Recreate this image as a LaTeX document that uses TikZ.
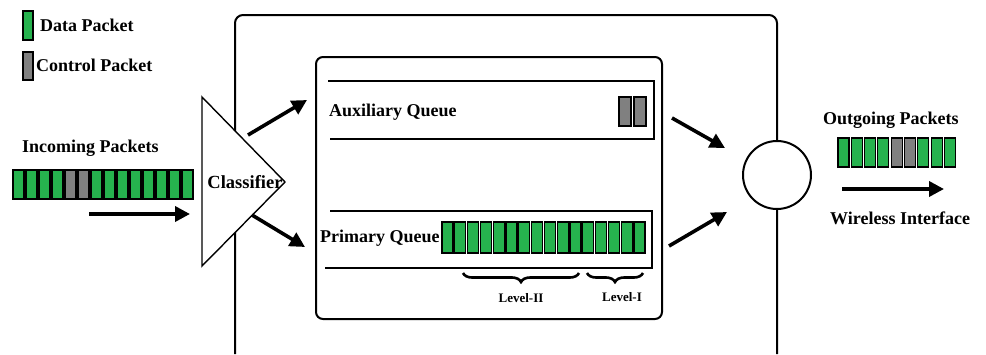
\documentclass[tikz,border=0pt]{standalone}
\usepackage{fontspec}
\setmainfont{Liberation Serif}
\usepackage{tikz}
\usepackage{xcolor}
\usetikzlibrary{positioning,arrows.meta,decorations.pathreplacing}
\definecolor{pktgreen}{RGB}{38,178,78}
\definecolor{pktgray}{RGB}{128,128,128}
\tikzset{
    packet-box/.style = {draw=black, line width=1.1pt, rectangle, inner sep=0pt, minimum width=11pt, minimum height=29pt},
    data-packet/.style = {fill=pktgreen},
    control-packet/.style = {fill=pktgray},
    big-label/.style = {font=\fontsize{18}{20}\selectfont\bfseries, inner sep=0pt},
    small-label/.style = {font=\fontsize{13}{15}\selectfont\bfseries, inner sep=0pt},
    thick-arrow/.style = {line width=3.6pt, -{Triangle[length=15pt,width=15pt]}},
    level-brace/.style = {line width=2.6pt, decorate, decoration={brace, mirror, amplitude=9pt}},
    frame-line/.style = {line width=2pt, rounded corners=8pt},
}

\begin{document}
\begin{tikzpicture}[x=1pt, y=-1pt]
\useasboundingbox (0,0) rectangle (986,354);
% outer router box, open at the bottom
\draw[frame-line] (235,354) -- (235,15) -- (777,15) -- (777,354);
\draw[line width=2pt, rounded corners=7pt] (316,57) rectangle (662,319);
% legend
\node[packet-box, data-packet, minimum width=10pt] (leg-data) at (28,25.5) {};
\node[packet-box, control-packet, minimum width=10pt, minimum height=28pt] (leg-ctrl) at (28,66) {};
\node[big-label, anchor=west] at (40,25) {Data Packet};
\node[big-label, anchor=west] at (36,65) {Control Packet};
% incoming side
\node[big-label, anchor=west] (in-title) at (22,148) {Incoming Packets};
\foreach \c [count=\i] in {data,data,data,data,control,control,data,data,data,data,data,data,data,data}
    \node[packet-box, \c-packet] (in-\i) at (5.5+13*\i,184.5) {};
\coordinate (in-start) at (89,214);
\coordinate (in-end) at (190,214);
\draw[thick-arrow] (in-start) -- (in-end);
% classifier
\draw[line width=1.4pt, fill=white] (202,97) -- (285,182) -- (202,266) -- cycle;
\node[font=\fontsize{18.5}{20}\selectfont\bfseries, inner sep=0pt] (classifier) at (245,182) {Classifier};
\coordinate (cl-up) at (248,135);
\coordinate (cl-down) at (252,215);
\coordinate (aux-in) at (307,100);
\coordinate (pri-in) at (305,247);
\draw[thick-arrow] (cl-up) -- (aux-in);
\draw[thick-arrow] (cl-down) -- (pri-in);
% queues
\draw[line width=1.8pt] (328,81) -- (654,81) -- (654,139) -- (330,139);
\node[big-label, anchor=west] (aux-label) at (329,112) {Auxiliary Queue};
\foreach \i in {1,2}
    \node[packet-box, control-packet, minimum width=12pt] (aux-\i) at (610+15*\i,111.5) {};
\draw[line width=1.8pt] (330,211) -- (652,211) -- (652,268) -- (325,268);
\node[big-label, anchor=west] (pri-label) at (320,238) {Primary Queue};
\foreach \i in {1,...,16}
    \node[packet-box, data-packet, minimum height=31pt] (pri-\i) at (434.7+12.8*\i,237.5) {};
\draw[level-brace] (463,273) -- (579,273);
\draw[level-brace] (587,273) -- (643,273);
\node[small-label] (lvl-two) at (521,298) {Level-II};
\node[small-label] (lvl-one) at (622,297) {Level-I};
% scheduler
\node[circle, draw=black, line width=2pt, fill=white, minimum size=68pt, inner sep=0pt] (sched) at (777,175) {};
\coordinate (aux-out) at (672,118);
\coordinate (pri-out) at (669,246);
\coordinate (sched-up) at (725,148);
\coordinate (sched-down) at (727,212);
\draw[thick-arrow] (aux-out) -- (sched-up);
\draw[thick-arrow] (pri-out) -- (sched-down);
% outgoing side
\node[big-label, anchor=west] (out-title) at (823,120) {Outgoing Packets};
\foreach \c [count=\i] in {data,data,data,data,control,control,data,data,data}
    \node[packet-box, \c-packet] (out-\i) at (830.2+13.3*\i,152.5) {};
\coordinate (out-start) at (842,189);
\coordinate (out-end) at (944,189);
\draw[thick-arrow] (out-start) -- (out-end);
\node[big-label, anchor=west] (wifi) at (830,218) {Wireless Interface};
\end{tikzpicture}
\end{document}
